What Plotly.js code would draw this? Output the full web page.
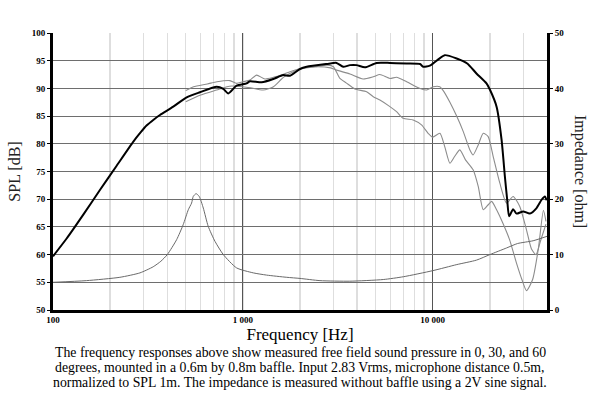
<!DOCTYPE html>
<html><head><meta charset="utf-8">
<script src="https://cdn.plot.ly/plotly-3.0.1.min.js"></script>
<style>html,body{margin:0;padding:0;background:#fff}#c{width:600px;height:394px}</style>
</head><body><div id="c"></div>
<script>
// 0 degrees SPL
var f0 = [100,118,145,177,216,265,290,311,340,366,430,506,594,728,789,838,927,1047,1090,1257,1447,1632,1771,2000,2168,2762,3116,3378,3665,3973,4394,5066,5956,7291,8577,8910,9660,10490,11570,13370,15200,17000,19200,20000,21700,23060,24000,24680,25270,26520,27650,29960,32480,35240,37460,39000,39800];
var spl0 = [59.7,62.9,67.3,71.7,76.0,80.4,82.1,83.3,84.4,85.2,86.7,88.4,89.3,90.3,89.9,89.1,90.5,90.9,91.3,91.1,91.7,92.4,92.3,93.5,93.9,94.4,94.6,93.9,94.2,94.2,93.8,94.6,94.6,94.5,94.4,93.9,94.1,95.0,96.0,95.4,94.5,92.7,90.9,89.8,86.7,80.7,74.1,69.9,66.9,68.2,67.4,67.8,67.4,68.4,69.9,70.5,69.8];
// 30 degrees SPL
var f30 = [500,550,650,730,855,927,1000,1090,1180,1307,1450,1650,2000,2400,2900,3116,3665,4300,4865,5270,5956,6450,7291,8577,9290,10070,10900,11360,12320,13370,14490,15700,16330,17370,18460,19600,20830,22580,24490,26520,28750,31170,33140,35000,37000,39500];
var spl30 = [89.6,90.3,90.8,91.2,91.4,90.9,91.2,91.5,92.4,91.7,92.0,92.6,93.6,93.9,93.7,93.3,92.6,91.7,92.1,92.5,91.8,92.0,91.2,90.0,89.7,90.3,90.3,89.6,87.5,85.0,82.2,78.9,78.0,79.8,81.9,81.3,77.7,72.9,69.3,70.5,68.7,64.5,61.0,60.0,62.5,65.5];
// 60 degrees SPL
var f60 = [500,600,728,850,1000,1100,1280,1450,1650,2000,2400,2800,3000,3244,3500,3890,4486,4865,5270,5900,6450,6995,7890,8730,9460,10000,10910,11570,12320,13040,13900,14880,16330,17370,18460,19600,20440,21700,23400,25400,27600,29500,31200,33600,36000,38300,39500];
var spl60 = [87.6,88.8,89.7,90.4,90.3,90.1,89.7,90.3,92.1,93.5,93.9,94.2,93.9,91.8,91.0,89.9,89.4,88.5,87.9,86.8,85.8,84.6,84.3,83.4,81.9,81.2,81.9,79.5,76.5,77.7,78.9,77.1,75.3,72.3,68.1,69.0,69.6,68.1,65.7,62.7,58.5,55.5,53.5,55.5,61.0,68.0,66.0];
// Impedance
var fZ = [100,150,225,287,337,370,400,448,485,516,537,548,567,589,619,657,713,789,927,1135,1334,1703,2000,2548,3660,5490,7000,10000,13400,17000,20000,24500,28000,33800,40000];
var imp = [5.0,5.3,5.9,6.7,7.8,8.8,10.0,12.7,15.4,18.1,19.3,20.5,21.0,20.5,18.4,15.1,12.4,10.0,7.6,6.7,6.3,5.9,5.7,5.3,5.2,5.5,6.0,7.1,8.2,9.0,10.0,11.2,12.0,12.5,13.3];

var xTickVals = [100,1000,10000];
var xTickText = ["100","1 000","10 000"];
var captionLines = [
  "The frequency responses above show measured free field sound pressure in 0, 30, and 60",
  "degrees, mounted in a 0.6m by 0.8m baffle. Input 2.83 Vrms, microphone distance 0.5m,",
  "normalized to SPL 1m. The impedance is measured without baffle using a 2V sine signal."
];

var serif = "Liberation Serif, Times New Roman, serif";
var traces = [
  {x:fZ, y:imp, yaxis:'y2', mode:'lines', line:{color:'#6a6a6a', width:1, shape:'spline', smoothing:0.6}, hoverinfo:'skip'},
  {x:f60, y:spl60, mode:'lines', line:{color:'#8c8c8c', width:1.1, shape:'spline', smoothing:0.6}},
  {x:f30, y:spl30, mode:'lines', line:{color:'#8c8c8c', width:1.1, shape:'spline', smoothing:0.6}},
  {x:f0, y:spl0, mode:'lines', line:{color:'#000', width:2, shape:'spline', smoothing:0.6}}
];

var ann = [
  {text:'Impedance [ohm]', xref:'paper', yref:'paper', x:1.068, y:0.5, textangle:90, showarrow:false,
   font:{family:serif, size:16, color:'#222'}, xanchor:'center', yanchor:'middle'}
];
var capY = [352, 367, 382];
for (var i = 0; i < captionLines.length; i++) {
  ann.push({text:captionLines[i], xref:'paper', yref:'paper', x:0.5, y:(310 - capY[i]) / 277,
    xanchor:'center', yanchor:'middle', showarrow:false,
    font:{family:serif, size:13.8, color:'#000'}});
}

var layout = {
  width:600, height:394,
  margin:{l:53, r:53, t:33, b:84},
  paper_bgcolor:'#fff', plot_bgcolor:'#fff',
  showlegend:false,
  font:{family:serif, color:'#000'},
  xaxis:{
    type:'log', range:[2, Math.log10(40000)],
    tickvals:xTickVals, ticktext:xTickText,
    tickfont:{family:serif, size:9, color:'#000', weight:'bold'},
    showgrid:true, gridcolor:'#555', gridwidth:1,
    minor:{dtick:'D1', showgrid:true, gridcolor:'#dedede', gridwidth:1.5, ticks:''},
    showline:true, linecolor:'#000', linewidth:2.5,
    ticks:'', ticklen:0,
    zeroline:false,
    title:{text:'Frequency [Hz]', font:{family:serif, size:17, color:'#000'}, standoff:0}
  },
  yaxis:{
    range:[50,100], dtick:5, tick0:50,
    tickfont:{family:serif, size:9, color:'#000', weight:'bold'},
    showgrid:true, gridcolor:'#6e6e6e', gridwidth:1,
    showline:true, linecolor:'#000', linewidth:3,
    ticks:'outside', ticklen:3, tickcolor:'#000',
    zeroline:false,
    title:{text:'SPL [dB]', font:{family:serif, size:16, color:'#222'}, standoff:8}
  },
  yaxis2:{
    overlaying:'y', side:'right', range:[0,50], dtick:10,
    tickfont:{family:serif, size:9, color:'#000', weight:'bold'},
    showgrid:false, showline:true, linecolor:'#000', linewidth:3,
    ticks:'outside', ticklen:3, tickcolor:'#000', zeroline:false
  },
  annotations:ann
};
Plotly.newPlot('c', traces, layout, {staticPlot:true, displayModeBar:false});
</script></body></html>
